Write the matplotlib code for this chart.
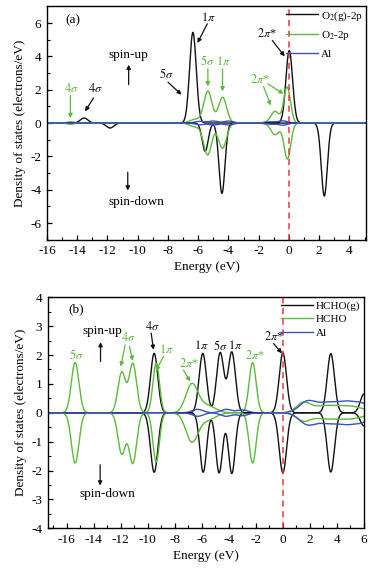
import numpy as np
import matplotlib
matplotlib.use("Agg")
import matplotlib.pyplot as plt
from matplotlib.ticker import MultipleLocator

plt.rcParams['font.family'] = ['Liberation Serif', 'DejaVu Serif']
plt.rcParams['mathtext.fontset'] = 'stix'
plt.rcParams['axes.unicode_minus'] = False

BLACK = '#111111'
GREEN = '#5cba3c'
BLUE = '#3a4fc0'
RED = '#e8383a'
FS = 9.5
GS = 8.8  # size of the orbital labels

# ---- panel (a): peaks (energy eV, height, width eV)
a_o2g_up = [(-13.55, 0.30, 0.25), (-6.35, 5.44, 0.22), (0.02, 4.35, 0.22)]
a_o2g_dn = [(-11.83, -0.30, 0.25), (-5.54, -1.70, 0.20), (-4.43, -4.22, 0.20), (2.34, -4.38, 0.20)]
a_o2_up = [(-14.45, 0.08, 0.2), (-6.2, 0.22, 0.35), (-5.36, 1.90, 0.27), (-4.39, 1.55, 0.27),
           (-0.92, 0.70, 0.28), (-0.12, 2.15, 0.22)]
a_o2_dn = [(-14.45, -0.08, 0.2), (-6.2, -0.22, 0.35), (-5.38, -1.90, 0.27), (-4.40, -1.52, 0.27),
           (-0.92, -0.70, 0.28), (-0.10, -2.15, 0.22)]
a_al_up = [(-5.9, 0.10, 0.3), (-5.0, 0.12, 0.3), (-4.0, 0.12, 0.3), (-1.3, 0.07, 0.35), (-0.4, 0.13, 0.3)]
a_al_dn = [(-5.9, -0.10, 0.3), (-5.0, -0.12, 0.3), (-4.0, -0.12, 0.3), (-1.3, -0.07, 0.35), (-0.4, -0.13, 0.3)]

# ---- panel (b)
b_hg_up = [(-9.53, 2.06, 0.27), (-5.93, 2.06, 0.27), (-4.64, 2.08, 0.27), (-3.78, 2.10, 0.27),
           (0.0, 2.08, 0.27), (3.55, 2.05, 0.27), (6.0, 0.65, 0.27)]
b_hg_dn = [(-9.53, -2.06, 0.27), (-5.90, -2.06, 0.25), (-4.72, -2.08, 0.25), (-3.78, -2.10, 0.25),
           (0.0, -2.08, 0.27), (3.55, -2.05, 0.27), (6.0, -0.45, 0.27)]
b_h_up = [(-15.38, 1.74, 0.28), (-11.93, 1.40, 0.28), (-11.11, 1.70, 0.28), (-9.38, 1.72, 0.24),
          (-6.74, 0.98, 0.45), (-5.6, 0.25, 0.6), (-2.24, 1.74, 0.26),
          (1.5, 0.32, 0.5), (3.0, 0.22, 0.9), (5.0, 0.22, 1.0)]
b_h_dn = [(-15.38, -1.74, 0.28), (-11.93, -1.42, 0.28), (-11.11, -1.74, 0.28), (-9.38, -1.70, 0.24),
          (-6.74, -0.98, 0.45), (-5.6, -0.25, 0.6), (-2.24, -1.74, 0.26),
          (1.5, -0.25, 0.5), (3.0, -0.18, 0.9), (5.0, -0.20, 1.0)]
b_al_up = [(-6.3, 0.12, 0.4), (-4.2, 0.12, 0.4), (-3.0, 0.10, 0.4),
           (1.8, 0.38, 0.6), (3.2, 0.30, 0.7), (4.8, 0.38, 0.8), (6.0, 0.2, 0.5)]
b_al_dn = [(-6.3, -0.12, 0.4), (-4.2, -0.12, 0.4), (-3.0, -0.10, 0.4),
           (1.8, -0.38, 0.6), (3.2, -0.30, 0.7), (4.8, -0.38, 0.8), (6.0, -0.2, 0.5)]


def smear(e, peaks):
    y = np.zeros_like(e)
    for c, h, w in peaks:
        y += h * np.exp(-(e - c) ** 2 / (2 * w ** 2))
    return y


def style_axes(ax, xlim, ylim, xmaj, ymaj):
    ax.set_xlim(*xlim)
    ax.set_ylim(*ylim)
    ax.xaxis.set_major_locator(MultipleLocator(xmaj))
    ax.xaxis.set_minor_locator(MultipleLocator(xmaj / 2))
    ax.yaxis.set_major_locator(MultipleLocator(ymaj))
    ax.yaxis.set_minor_locator(MultipleLocator(ymaj / 2))
    ax.tick_params(which='both', direction='in', labelsize=FS, top=False, right=False)
    ax.tick_params(which='major', length=3.5, width=0.9, pad=4)
    ax.tick_params(which='minor', length=2, width=0.8)
    for s in ax.spines.values():
        s.set_linewidth(1.0)
    ax.set_xlabel('Energy (eV)', fontsize=FS, labelpad=3)
    ax.set_ylabel('Density of states (electrons/eV)', fontsize=FS, labelpad=3)


def arrow(ax, xy_from, xy_to, color):
    ax.annotate('', xy=xy_to, xytext=xy_from,
                arrowprops=dict(arrowstyle='-|>', color=color, lw=0.9,
                                mutation_scale=6, shrinkA=0, shrinkB=0))


def label(ax, x, y, s, color):
    ax.text(x, y, s, fontsize=GS, ha='center', va='center', color=color)


fig = plt.figure(figsize=(3.74, 5.71), dpi=100)

# ---------------- panel (a)
ax = fig.add_axes([0.1257, 0.5802, 0.853, 0.4087])
e = np.linspace(-16, 5.2, 2000)
ax.plot(e, smear(e, a_o2g_up), color=BLACK, lw=1.0, label='O$_2$(g)-2p')
ax.plot(e, smear(e, a_o2_up), color=GREEN, lw=1.0, label='O$_2$-2p')
ax.plot(e, smear(e, a_al_up), color=BLUE, lw=1.0, label='Al')
ax.plot(e, smear(e, a_o2g_dn), color=BLACK, lw=1.0)
ax.plot(e, smear(e, a_o2_dn), color=GREEN, lw=1.0)
ax.plot(e, smear(e, a_al_dn), color=BLUE, lw=1.0)
ax.axvline(0, color=RED, lw=1.1, ls=(0, (4, 3)))
style_axes(ax, (-16, 5.1), (-7, 7), 2, 2)
ax.legend(loc='upper right', frameon=False, fontsize=8, handlelength=2.9,
          handletextpad=0.25, labelspacing=0.6, borderaxespad=0.05, borderpad=0.2)

ax.text(-14.8, 6.15, '(a)', fontsize=FS, ha='left', va='center')
ax.text(-10.6, 4.1, 'spin-up', fontsize=FS, ha='center', va='center')
arrow(ax, (-10.6, 2.3), (-10.6, 3.5), BLACK)
ax.text(-10.1, -4.75, 'spin-down', fontsize=FS, ha='center', va='center')
arrow(ax, (-10.66, -2.95), (-10.66, -4.05), BLACK)

label(ax, -5.3, 6.35, r'$1\pi$', BLACK)
arrow(ax, (-5.4, 5.95), (-6.05, 4.8), BLACK)
label(ax, -1.45, 5.4, r'$2\pi$*', BLACK)
arrow(ax, (-1.1, 4.95), (-0.28, 4.0), BLACK)
label(ax, -8.1, 2.95, r'$5\sigma$', BLACK)
arrow(ax, (-8.0, 2.45), (-7.1, 1.7), BLACK)
label(ax, -12.8, 2.05, r'$4\sigma$', BLACK)
arrow(ax, (-12.93, 1.5), (-13.48, 0.7), BLACK)

label(ax, -14.37, 2.05, r'$4\sigma$', GREEN)
arrow(ax, (-14.45, 1.65), (-14.45, 0.3), GREEN)
label(ax, -5.4, 3.7, r'$5\sigma$', GREEN)
arrow(ax, (-5.36, 3.25), (-5.36, 2.2), GREEN)
label(ax, -4.35, 3.7, r'$1\pi$', GREEN)
arrow(ax, (-4.39, 3.25), (-4.39, 1.9), GREEN)
label(ax, -1.9, 2.6, r'$2\pi$*', GREEN)
arrow(ax, (-1.68, 2.2), (-1.2, 1.05), GREEN)
arrow(ax, (-1.4, 2.35), (-0.35, 1.75), GREEN)

# ---------------- panel (b)
ax = fig.add_axes([0.128, 0.0748, 0.845, 0.4045])
e = np.linspace(-17.5, 6.0, 2400)
ax.plot(e, smear(e, b_hg_up), color=BLACK, lw=1.0, label='HCHO(g)')
ax.plot(e, smear(e, b_h_up), color=GREEN, lw=1.0, label='HCHO')
ax.plot(e, smear(e, b_al_up), color=BLUE, lw=1.0, label='Al')
ax.plot(e, smear(e, b_hg_dn), color=BLACK, lw=1.0)
ax.plot(e, smear(e, b_h_dn), color=GREEN, lw=1.0)
ax.plot(e, smear(e, b_al_dn), color=BLUE, lw=1.0)
ax.axvline(0, color=RED, lw=1.1, ls=(0, (4, 3)))
style_axes(ax, (-17.4, 6.0), (-4, 4), 2, 1)
ax.legend(loc='upper right', frameon=False, fontsize=8, handlelength=2.9,
          handletextpad=0.25, labelspacing=0.35, borderaxespad=0.1, borderpad=0.2)

ax.text(-15.9, 3.57, '(b)', fontsize=FS, ha='left', va='center')
ax.text(-13.4, 2.82, 'spin-up', fontsize=FS, ha='center', va='center')
arrow(ax, (-13.5, 1.78), (-13.5, 2.45), BLACK)
ax.text(-13.0, -2.8, 'spin-down', fontsize=FS, ha='center', va='center')
arrow(ax, (-13.53, -1.8), (-13.53, -2.52), BLACK)

label(ax, -15.33, 2.0, r'$5\sigma$', GREEN)
label(ax, -11.48, 2.6, r'$4\sigma$', GREEN)
arrow(ax, (-11.68, 2.35), (-12.0, 1.6), GREEN)
arrow(ax, (-11.36, 2.3), (-11.11, 1.8), GREEN)
label(ax, -8.64, 2.18, r'$1\pi$', GREEN)
arrow(ax, (-8.84, 1.95), (-9.4, 1.45), GREEN)
label(ax, -6.99, 1.72, r'$2\pi$*', GREEN)
arrow(ax, (-7.36, 1.48), (-6.87, 1.08), GREEN)
label(ax, -2.05, 1.97, r'$2\pi$*', GREEN)

label(ax, -9.7, 2.99, r'$4\sigma$', BLACK)
arrow(ax, (-9.75, 2.76), (-9.58, 2.18), BLACK)
label(ax, -6.0, 2.33, r'$1\pi$', BLACK)
label(ax, -4.62, 2.33, r'$5\sigma$', BLACK)
label(ax, -3.5, 2.33, r'$1\pi$', BLACK)
label(ax, -0.69, 2.64, r'$2\pi$*', BLACK)
arrow(ax, (-0.69, 2.4), (-0.07, 2.06), BLACK)

fig.savefig('out.png', dpi=100)
